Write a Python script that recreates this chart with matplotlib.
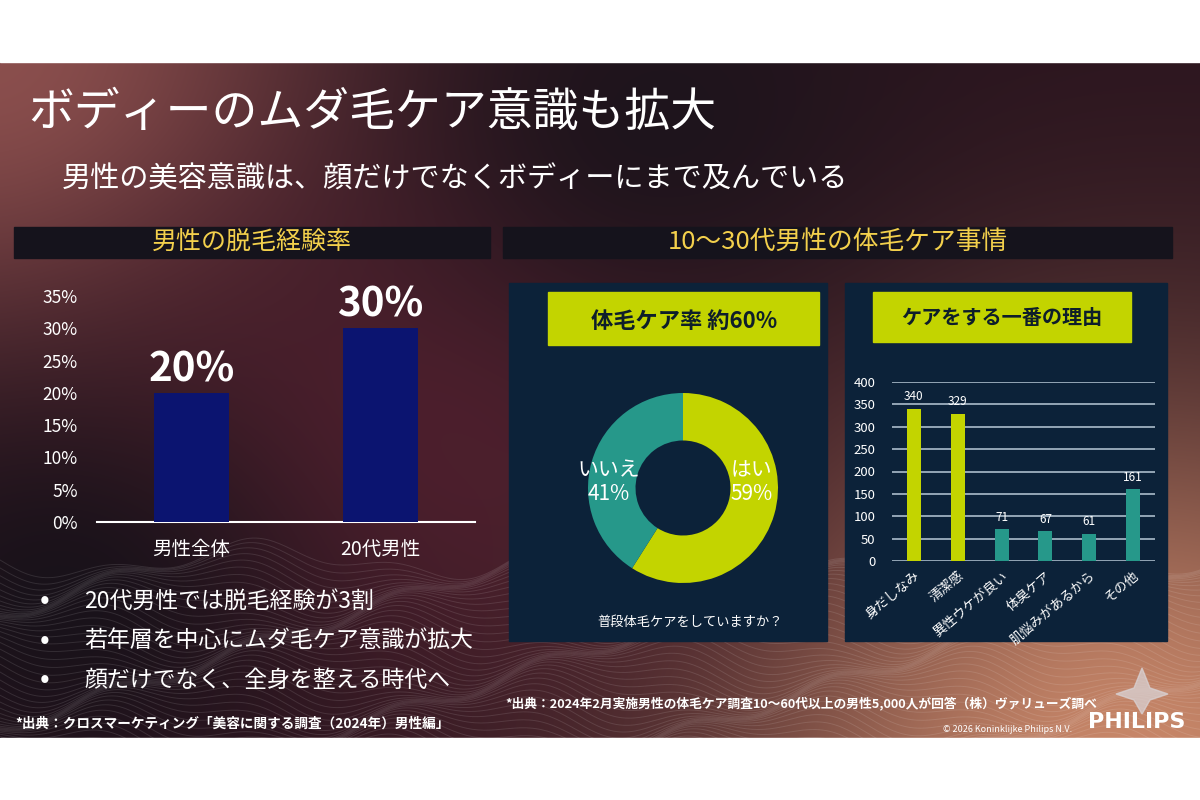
import numpy as np
import matplotlib
import matplotlib.pyplot as plt
from matplotlib.patches import Rectangle, Polygon

matplotlib.use('Agg')
plt.rcParams['font.family'] = ['Noto Sans CJK JP', 'DejaVu Sans']

# --- data ---
rate_groups = ['男性全体', '20代男性']
rate_values = [20, 30]
rate_ticks = [0, 5, 10, 15, 20, 25, 30, 35]

donut_labels = ['はい', 'いいえ']
donut_shares = [59, 41]

reason_labels = ['身だしなみ', '清潔感', '異性ウケが良い', '体臭ケア', '肌悩みがあるから', 'その他']
reason_counts = [340, 329, 71, 67, 61, 161]
reason_ticks = [0, 50, 100, 150, 200, 250, 300, 350, 400]

bullets = ['20代男性では脱毛経験が3割',
           '若年層を中心にムダ毛ケア意識が拡大',
           '顔だけでなく、全身を整える時代へ']

title = 'ボディーのムダ毛ケア意識も拡大'
subtitle = '男性の美容意識は、顔だけでなくボディーにまで及んでいる'
left_head = '男性の脱毛経験率'
right_head = '10～30代男性の体毛ケア事情'
source_left = '*出典：クロスマーケティング「美容に関する調査（2024年）男性編」'
source_right = '*出典：2024年2月実施男性の体毛ケア調査10～60代以上の男性5,000人が回答（株）ヴァリューズ調べ'

# colours
LIME = '#c3d400'
TEAL = '#26988a'
NAVY = '#0c2239'
BAR_BLUE = '#0b1470'
GOLD = '#f3d04c'

W, H = 1200, 800
TOP, BOT = 62, 738

fig = plt.figure(figsize=(12, 8), dpi=100)
fig.patch.set_facecolor('white')

# full-figure axes in pixel coordinates for the slide decoration
bg = fig.add_axes([0, 0, 1, 1])
bg.set_xlim(0, W)
bg.set_ylim(H, 0)
bg.axis('off')

# background gradient
ny, nx = BOT - TOP, W
yy, xx = np.mgrid[0:1:ny * 1j, 0:1:nx * 1j]
base = np.array([42, 20, 30]) / 255.0
img = np.ones((ny, nx, 3)) * base
glows = [
    ((0.0, 0.0), 0.45, (140, 80, 78)),
    ((0.95, 1.05), 0.55, (200, 135, 105)),
    ((0.35, 0.55), 0.40, (80, 32, 46)),
    ((0.05, 0.80), 0.30, (25, 18, 26)),
    ((0.55, 0.08), 0.30, (30, 20, 28)),
]
for (cx, cy), r, col in glows:
    w = np.exp(-(((xx - cx) * 1.5) ** 2 + (yy - cy) ** 2) / r ** 2)[..., None]
    img = img * (1 - w) + np.array(col) / 255.0 * w
bg.imshow(np.clip(img, 0, 1), extent=(0, W, BOT, TOP), aspect='auto', zorder=0)

# faint wavy lines at the bottom
xs = np.linspace(0, W, 400)
for k in range(45):
    y0 = 560 + k * 4.5
    ys = y0 + 14 * np.sin(xs / 55.0 + k * 0.25) + 8 * np.sin(xs / 23.0)
    bg.plot(xs, ys, color='white', lw=0.7, alpha=0.11, zorder=1)
bg.add_patch(Rectangle((0, BOT), W, H - BOT, color='white', zorder=2))
bg.add_patch(Rectangle((0, 0), W, TOP, color='white', zorder=2))

# titles
bg.text(28, 113, title, color='white', fontsize=33, va='center', ha='left', zorder=5)
bg.text(62, 180, subtitle, color='white', fontsize=21, va='center', ha='left', zorder=5)

# section header bars
bg.add_patch(Rectangle((14, 227), 476, 31, color='#15131c', zorder=3))
bg.add_patch(Rectangle((503, 227), 669, 31, color='#15131c', zorder=3))
bg.text(252, 242, left_head, color=GOLD, fontsize=18, ha='center', va='center', zorder=5)
bg.text(838, 242, right_head, color=GOLD, fontsize=18.5, ha='center', va='center', zorder=5)

# panels
bg.add_patch(Rectangle((509, 283), 318, 358, color=NAVY, zorder=3))
bg.add_patch(Rectangle((845, 283), 322, 358, color=NAVY, zorder=3))
bg.add_patch(Rectangle((548, 292), 271, 53, color=LIME, zorder=4))
bg.add_patch(Rectangle((873, 292), 258, 50, color=LIME, zorder=4))
bg.text(684, 321, '体毛ケア率 約60%', color='#0e1e2a', fontsize=16, fontweight='bold',
        ha='center', va='center', zorder=5)
bg.text(1002, 318, 'ケアをする一番の理由', color='#0e1e2a', fontsize=14.5, fontweight='bold',
        ha='center', va='center', zorder=5)
bg.text(690, 622, '普段体毛ケアをしていますか？', color='white', fontsize=9.5,
        ha='center', va='center', zorder=5)

# bullets
for i, b in enumerate(bullets):
    y = 601 + i * 39.5
    bg.text(45, y, '•', color='white', fontsize=21, ha='center', va='center', zorder=5)
    bg.text(84, y, b, color='white', fontsize=16.5, ha='left', va='center', zorder=5)

# sources and logo
bg.text(15, 724, source_left, color='white', fontsize=9.8, fontweight='bold',
        ha='left', va='center', zorder=5)
bg.text(505, 703, source_right, color='white', fontsize=9.2, fontweight='bold',
        ha='left', va='center', zorder=5)
bg.text(943, 729, '© 2026 Koninklijke Philips N.V.', color='white', fontsize=6.5,
        ha='left', va='center', zorder=5)
bg.text(1137, 722, 'PHILIPS', color='white', fontsize=16, fontweight='bold',
        family='DejaVu Sans', ha='center', va='center', zorder=5)
star = [(1142, 668), (1150, 688), (1168, 694), (1150, 700), (1142, 714),
        (1134, 700), (1116, 694), (1134, 688)]
bg.add_patch(Polygon(star, closed=True, color='#d9d2d4', alpha=0.75, zorder=5))


def px_axes(x0, y0, x1, y1):
    return fig.add_axes([x0 / W, 1 - y1 / H, (x1 - x0) / W, (y1 - y0) / H])


# --- left bar chart ---
ax1 = px_axes(97, 296, 475, 522)
ax1.set_facecolor('none')
xpos = np.arange(len(rate_groups))
ax1.bar(xpos, rate_values, width=0.4, color=BAR_BLUE, zorder=3)
ax1.set_xlim(-0.5, 1.5)
ax1.set_ylim(0, 35)
ax1.set_yticks(rate_ticks)
ax1.set_yticklabels([f'{v}%' for v in rate_ticks])
ax1.set_xticks(xpos)
ax1.set_xticklabels(rate_groups)
ax1.tick_params(axis='y', length=0, pad=14, labelsize=12.5, labelcolor='white')
ax1.tick_params(axis='x', length=0, pad=12, labelsize=14, labelcolor='white')
for s in ['top', 'right', 'left']:
    ax1.spines[s].set_visible(False)
ax1.spines['bottom'].set_color('white')
ax1.spines['bottom'].set_linewidth(1.5)
for x, v in zip(xpos, rate_values):
    ax1.annotate(f'{v}%', (x, v), xytext=(0, 2), textcoords='offset points',
                 ha='center', va='bottom', color='white', fontsize=29,
                 fontweight='bold', annotation_clip=False)

# --- donut ---
ax2 = px_axes(683 - 95, 488 - 95, 683 + 95, 488 + 95)
ax2.pie(donut_shares, colors=[LIME, TEAL], startangle=90, counterclock=False,
        wedgeprops=dict(width=0.5, edgecolor='none'))
ax2.set_xlim(-1, 1)
ax2.set_ylim(-1, 1)
ax2.set_aspect('equal')
ax2.text(0.72, 0.06, f'{donut_labels[0]}\n{donut_shares[0]}%', color='white',
         fontsize=15, ha='center', va='center', linespacing=1.1)
ax2.text(-0.78, 0.06, f'{donut_labels[1]}\n{donut_shares[1]}%', color='white',
         fontsize=15, ha='center', va='center', linespacing=1.1)

# --- reasons bar chart ---
ax3 = px_axes(892, 382, 1155, 561)
ax3.set_facecolor('none')
rpos = np.arange(len(reason_labels))
rcolors = [LIME, LIME, TEAL, TEAL, TEAL, TEAL]
ax3.bar(rpos, reason_counts, width=0.32, color=rcolors, zorder=3)
ax3.set_xlim(-0.5, len(reason_labels) - 0.5)
ax3.set_ylim(0, 400)
ax3.set_yticks(reason_ticks)
ax3.yaxis.grid(True, color='#9fb0c0', lw=1.3, zorder=0)
ax3.set_axisbelow(True)
ax3.tick_params(axis='y', length=0, pad=12, labelsize=9.5, labelcolor='white')
ax3.set_xticks(rpos)
ax3.set_xticklabels(reason_labels, rotation=40, ha='right', rotation_mode='anchor')
ax3.tick_params(axis='x', length=0, pad=6, labelsize=9.5, labelcolor='white')
for s in ax3.spines.values():
    s.set_visible(False)
for x, v in zip(rpos, reason_counts):
    ax3.text(x, v + 12, str(v), color='white', fontsize=8.5, ha='center', va='bottom')

fig.savefig('out.png', dpi=100)
